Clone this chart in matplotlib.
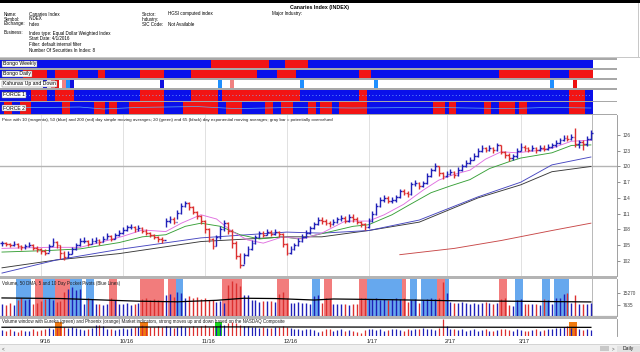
import matplotlib
matplotlib.use('Agg')
import matplotlib.pyplot as plt
from matplotlib.collections import LineCollection
from matplotlib.patches import Rectangle
import numpy as np
import pandas as pd

FONT = ['Liberation Sans', 'DejaVu Sans']
plt.rcParams['font.family'] = FONT

# ---------------- data ----------------
holidays = ['2016-09-05', '2016-11-24', '2016-12-26', '2017-01-02',
            '2017-01-16', '2017-02-20']
dates = pd.bdate_range('2016-08-18', '2017-03-27', freq='C', holidays=holidays)

close = [105.4,105.2,105.0,105.3,104.9,104.6,104.8,105.1,104.5,104.2,
         103.9,103.6,104.8,105.7,105.0,103.5,102.8,103.4,104.2,105.0,
         105.8,105.9,105.3,105.8,106.0,105.6,106.2,106.7,106.2,106.9,
         107.3,107.9,108.4,108.5,108.0,108.3,107.8,107.4,107.0,106.6,
         106.2,106.0,109.6,110.0,109.5,111.2,112.5,113.0,112.3,111.4,
         110.5,109.6,108.0,106.2,104.8,106.5,108.0,109.2,107.8,105.5,
         103.0,101.3,103.2,104.3,105.5,106.5,107.3,107.0,107.6,107.2,
         107.5,107.1,105.2,103.6,104.3,105.0,105.8,106.6,107.4,108.2,
         109.0,109.8,109.6,109.3,109.0,109.4,109.9,110.2,109.7,110.4,
         110.0,109.5,109.0,108.4,109.6,111.0,112.5,113.6,113.9,113.5,
         113.6,114.1,115.3,115.0,114.7,116.6,116.9,116.2,116.8,118.2,
         119.3,120.0,118.7,118.1,118.6,119.0,118.3,119.4,120.0,120.7,
         121.3,122.0,123.0,123.5,123.2,123.6,123.1,124.0,122.8,122.2,
         121.6,121.9,123.0,123.8,123.5,123.2,123.5,123.1,123.6,123.4,
         123.8,124.0,124.5,125.0,125.5,125.3,125.7,124.2,124.6,124.3,
         125.3,126.4]
high = [105.9,105.7,105.5,105.8,105.4,105.1,105.3,105.6,105.2,104.8,
        104.5,104.2,105.2,106.3,105.8,105.0,103.9,103.9,104.6,105.5,
        106.3,106.5,106.0,106.3,106.6,106.2,106.8,107.3,106.9,107.4,
        107.9,108.4,108.9,109.0,108.7,108.8,108.5,108.0,107.6,107.2,
        106.8,106.6,110.1,110.6,110.3,111.7,113.1,113.5,113.2,112.5,
        111.6,110.7,109.8,108.3,106.4,107.0,108.6,109.8,109.4,108.0,
        105.8,103.5,103.6,104.8,106.0,107.0,107.8,107.7,108.1,107.9,
        108.0,107.8,107.3,105.5,104.8,105.5,106.3,107.1,107.9,108.7,
        109.5,110.4,110.3,110.0,109.6,109.9,110.4,110.7,110.5,110.9,
        110.9,110.3,109.7,109.2,110.1,111.5,113.0,114.1,114.5,114.3,
        114.1,114.6,115.8,115.7,115.3,117.1,117.5,117.0,117.3,118.7,
        119.8,120.6,120.1,119.0,119.1,119.5,119.2,119.9,120.5,121.2,
        121.8,122.5,123.5,124.0,123.8,124.1,123.8,124.5,124.1,123.0,
        122.5,122.4,123.5,124.4,124.1,123.8,124.0,123.7,124.1,124.0,
        124.3,124.5,125.0,125.5,126.0,125.9,126.2,127.3,125.1,125.0,
        125.8,126.9]
low = [104.9,104.8,104.6,104.8,104.5,104.1,104.3,104.6,104.1,103.7,
       103.4,103.1,103.8,104.9,104.5,102.4,102.2,102.6,103.3,104.1,
       104.9,105.4,104.9,105.2,105.5,105.1,105.6,106.1,105.8,106.2,
       106.8,107.2,107.8,108.0,107.5,107.8,107.3,106.9,106.5,106.1,
       105.7,105.5,108.4,109.3,109.0,109.9,111.0,112.2,111.8,110.9,
       110.0,109.1,107.4,105.6,104.3,104.9,106.2,107.8,107.2,104.5,
       102.4,100.6,101.5,103.0,104.0,105.3,106.4,106.5,106.9,106.7,
       106.9,106.6,104.7,103.1,103.3,104.0,104.8,105.6,106.4,107.2,
       108.0,108.8,109.1,108.8,108.5,108.8,109.2,109.6,109.2,109.5,
       109.5,109.0,108.5,107.9,108.3,109.4,110.8,112.3,113.2,113.0,
       113.0,113.3,114.0,114.5,114.2,114.6,116.3,115.7,116.0,116.7,
       118.0,119.2,118.1,117.6,117.9,118.3,117.8,118.2,119.2,119.9,
       120.5,121.2,121.8,122.8,122.7,123.0,122.6,123.0,122.3,121.6,
       121.0,121.2,121.7,122.9,123.0,122.7,122.9,122.6,123.0,122.9,
       123.2,123.5,123.8,124.3,124.8,124.8,125.0,123.8,123.6,123.1,
       123.9,125.1]

# moving averages read at a few bars (bar index, value)
ma10_i = [0, 12, 20, 25, 31, 36, 42, 46, 51, 55, 59, 63, 67, 72, 77, 82, 88, 94, 98,
          103, 108, 112, 116, 120, 124, 128, 132, 137, 141, 146, 151]
ma10_v = [104.4, 104.6, 104.6, 105.5, 106.7, 107.9, 107.6, 109.2, 110.8, 110.0, 107.6,
          106.0, 105.4, 106.6, 106.2, 107.3, 109.6, 109.6, 110.8, 112.8, 115.5, 117.4,
          118.5, 119.3, 121.4, 122.8, 122.6, 123.0, 123.5, 124.8, 125.0]
ema20_i = [0, 12, 20, 30, 36, 42, 47, 51, 56, 61, 66, 72, 76, 82, 90, 94, 100, 104,
           110, 115, 120, 125, 130, 133, 141, 146, 151]
ema20_v = [103.7, 104.0, 104.3, 105.5, 106.6, 107.0, 108.6, 109.2, 108.6, 107.0, 106.2,
           106.6, 106.2, 107.2, 108.6, 108.9, 110.8, 112.5, 115.0, 116.3, 117.5, 119.6,
           120.9, 121.6, 122.6, 124.0, 124.1]
sma50_i = [0, 14, 30, 51, 73, 82, 94, 107, 122, 133, 141, 151]
sma50_v = [99.7, 102.2, 104.2, 106.4, 107.5, 107.3, 107.8, 109.8, 114.2, 117.0, 120.3, 121.8]
ema65_i = [0, 14, 30, 51, 73, 82, 94, 107, 122, 133, 141, 151]
ema65_v = [100.7, 102.2, 103.4, 105.7, 106.6, 106.6, 107.8, 109.4, 114.0, 116.5, 119.0, 120.0]
sma200_i = [102, 116, 128, 141, 151]
sma200_v = [103.2, 104.4, 105.9, 107.8, 109.2]

volume = [8200, 7600, 8800, 7400, 11000, 12000, 10500, 11500, 8000, 8600,
          9800, 11800, 12400, 11000, 9500, 10200, 16000, 18500, 19500, 17500,
          18000, 8200, 12000, 11500, 7800, 8400, 7600, 8200, 12500, 11000,
          7800, 8000, 8800, 7600, 8200, 9000, 11500, 12000, 10800, 11200,
          10500, 9800, 14500, 15000, 13000, 16000, 15500, 12500, 13500, 12000,
          13000, 11500, 12000, 10500, 11000, 9500, 10000, 9000, 21000, 23500,
          22000, 20500, 14000, 14500, 11000, 10500, 9500, 10000, 9800, 10200,
          9600, 15000, 16500, 12000, 9000, 8600, 9200, 8800, 9000, 8400,
          13500, 14000, 9000, 12000, 11500, 8200, 7800, 8400, 8000, 7600,
          8200, 8000, 12000, 12500, 11800, 11500, 12000, 11000, 11800, 10800,
          11500, 12000, 11200, 12500, 9500, 11000, 11500, 9000, 11000, 11500,
          12000, 11800, 12500, 23000, 15500, 9500, 8800, 8500, 9200, 8800,
          8400, 9000, 8200, 8800, 9400, 8600, 8000, 8800, 11500, 12000,
          7400, 7000, 11000, 11500, 8200, 7800, 8400, 8000, 7600, 11200,
          11000, 8200, 12000, 12500, 15000, 15500, 9000, 14000, 8400, 8000,
          7800, 8600]
vol50_i = [0, 15, 35, 45, 55, 62, 70, 80, 85, 100, 118, 135, 151]
vol50_v = [12200, 11800, 10000, 9600, 10600, 12000, 11800, 10800, 11500, 11000,
           10200, 9900, 9500]
pivot_blue = [(4, 7), (11, 13), (17, 20), (22, 23), (44, 46), (80, 81), (93, 94),
              (95, 98), (99, 102), (105, 106), (108, 111), (113, 114), (132, 133),
              (139, 140), (142, 143), (144, 145)]
pivot_red = [(9, 10), (14, 15), (16, 17), (28, 29), (36, 37), (38, 41), (43, 44),
             (57, 61), (71, 73), (83, 84), (92, 93), (103, 103), (112, 113), (128, 129)]

nasdaq_vol = [1.55,1.45,1.60,1.50,1.40,1.55,1.50,1.45,1.60,1.50,
              1.55,1.65,1.70,1.60,1.75,1.90,1.80,1.70,1.85,1.75,
              1.60,1.55,1.65,1.70,2.00,2.05,1.95,1.60,1.65,1.55,
              1.60,1.70,1.65,1.75,1.80,1.85,2.00,1.90,1.85,1.80,
              1.95,1.85,1.90,1.80,1.75,1.85,1.95,1.80,1.85,1.90,
              1.80,1.95,2.00,1.85,1.90,1.95,2.10,2.05,2.15,2.30,
              2.20,2.00,1.95,1.90,1.85,1.80,1.75,1.80,1.70,1.75,
              1.80,1.85,1.90,1.85,1.70,1.65,1.60,1.55,1.60,1.65,
              1.55,1.40,1.45,1.60,1.65,1.50,1.55,1.60,1.50,1.55,
              1.45,1.35,1.30,1.55,1.60,1.65,1.55,1.60,1.50,1.55,
              1.60,1.65,1.55,1.50,1.60,1.55,1.65,1.60,1.70,1.65,
              1.60,1.55,1.75,2.60,1.95,1.65,1.60,1.55,1.60,1.50,
              1.55,1.60,1.50,1.55,1.60,1.50,1.45,1.55,1.60,1.65,
              1.55,1.50,1.60,1.55,1.50,1.45,1.55,1.60,1.50,1.55,
              1.65,1.60,1.70,1.75,1.80,1.95,1.70,1.75,1.60,1.55,
              1.60,1.55]
nasdaq_avg_i = [0, 60, 151]
nasdaq_avg_v = [1.80, 1.83, 1.79]
eureka = [(55, 56)]
phoenix = [(14, 15), (36, 37), (146, 147)]

bongo_weekly_red = [(54, 68), (73, 78)]
bongo_daily_red = [(6, 11), (14, 19), (25, 26), (36, 41), (49, 65), (71, 75),
                   (92, 94), (128, 140), (146, 151)]
kahunas = [(11, '#1010e0'), (13, '#f08080'), (14, '#ee1010'), (16, '#f08080'),
           (17, '#1e8fff'), (18, '#1010e0'), (41, '#1010e0'), (56, '#1e8fff'),
           (59, '#f08080'), (77, '#1e8fff'), (96, '#1e8fff'), (141, '#1e8fff'),
           (147, '#ee1010')]
force1_red = [(8, 11), (14, 18), (36, 41), (49, 55), (57, 76), (92, 93), (146, 149)]
force2_red = [(1, 2), (5, 7), (16, 17), (24, 26), (28, 29), (33, 35), (36, 41),
              (47, 55), (58, 61), (68, 69), (72, 74), (79, 80), (82, 84), (87, 89),
              (90, 93), (111, 113), (115, 116), (124, 125), (128, 131), (133, 134),
              (146, 149)]
force2_i = [0, 20, 26, 35, 50, 60, 75, 90, 110, 130, 140, 151]
force2_v = [0.50, 0.58, 0.42, 0.55, 0.62, 0.45, 0.55, 0.50, 0.55, 0.45, 0.55, 0.50]

# ---------------- layout helpers ----------------
W, H = 640, 352
fig = plt.figure(figsize=(6.4, 3.52), dpi=100)
fig.patch.set_facecolor('white')
renderer = fig.canvas.get_renderer()
N = len(close)
idx = np.arange(N)
XL = (-2 / 3.9, (617 - 2) / 3.9)
BLUE, RED = '#0a10ea', '#f21414'
BAR_BLUE, BAR_RED = '#2020b8', '#dc3030'


def ax_px(x0, y0, x1, y1):
    return fig.add_axes([x0 / W, 1 - y1 / H, (x1 - x0) / W, (y1 - y0) / H])


def ftext(x, y, s, size=3.4, width=None, **kw):
    kw.setdefault('va', 'center')
    t = fig.text(x / W, 1 - y / H, s, fontsize=size, **kw)
    if width:
        bb = t.get_window_extent(renderer)
        t.set_fontsize(size * width / bb.width)
    return t


def frect(x0, y0, x1, y1, color, z=-5):
    fig.patches.append(Rectangle((x0 / W, 1 - y1 / H), (x1 - x0) / W, (y1 - y0) / H,
                                 transform=fig.transFigure, fc=color, ec='none',
                                 zorder=z))


month_start = [i for i in range(1, N) if dates[i].month != dates[i - 1].month]

# ---------------- header ----------------
frect(0, 0, 640, 3, 'black', z=5)
frect(0, 56.5, 640, 57.5, '#c8c8c8')
frect(637.5, 3, 638.5, 57, '#c8c8c8')
base = ftext(29, 33, 'Index type: Equal Dollar Weighted Index', width=83).get_fontsize()
ftext(290, 7, 'Canaries Index (INDEX)', size=base * 1.15, weight='bold')
for y, lab, val in [(14, 'Name:', 'Canaries Index'), (19, 'Symbol:', 'INDEX'),
                    (24, 'Exchange:', 'Index'), (33, 'Business:', None)]:
    ftext(4, y, lab, size=base)
    if val:
        ftext(29, y, val, size=base)
ftext(29, 38.5, 'Start Date: 4/1/2016', size=base)
ftext(29, 44, 'Filter: default internal filter', size=base)
ftext(29, 50, 'Number Of Securities In Index: 8', size=base)
ftext(142, 14, 'Sector:', size=base)
ftext(168, 14, 'HGSI computed index', size=base)
ftext(142, 19, 'Industry:', size=base)
ftext(142, 24, 'SIC Code:', size=base)
ftext(168, 24, 'Not Available', size=base)
ftext(272, 14, 'Major Industry:', size=base)

# ---------------- indicator strips ----------------
frect(0, 58, 617, 115, '#a8a8a8')


def strip(y0, y1, red_runs, label, bg=BLUE):
    ax = ax_px(0, y0, 617, y1)
    ax.set_xlim(XL)
    ax.set_ylim(0, 1)
    ax.axis('off')
    ax.axvspan(XL[0], XL[1], color='white', lw=0)
    ax.axvspan(XL[0], N - 0.5, color=bg, lw=0)
    for a, b in red_runs:
        ax.axvspan(a - 0.5, b + 0.5, color=RED, lw=0)
    for m in month_start:
        ax.axvline(m, color='#d0d0d0', lw=0.5, zorder=0)
    ax.axvline(XL[1] - 0.05, color='#909090', lw=0.6)
    ax.text(0.3, 0.5, label, fontsize=base * 1.12, va='center', ha='left',
            bbox=dict(fc='white', ec='#707070', lw=0.3, pad=0.5))
    return ax


strip(59.5, 68, bongo_weekly_red, 'Bongo Weekly')
strip(70, 77.5, bongo_daily_red, 'Bongo Daily')
ak = strip(79.5, 88, [], 'Kahunas Up and Down', bg='white')
for i, c in kahunas:
    ak.axvspan(i - 0.5, i + 0.5, color=c, lw=0)
af1 = strip(89.5, 100.5, force1_red, 'FORCE 1')
af1.plot(idx, np.full(N, 0.5), ls=(0, (1, 3)), color='#7fb8ff', lw=0.6)
af2 = strip(102, 114, force2_red, 'FORCE 2')
af2.plot(force2_i, force2_v, color='#5fb0f0', lw=0.5)

# ---------------- price panel ----------------
ax = ax_px(0, 115, 617, 276)
ax.set_xlim(XL)
ax.set_ylim(99.14, 129.8)
for s in ['top', 'bottom', 'left']:
    ax.spines[s].set_visible(False)
ax.spines['right'].set_color('#909090')
ax.spines['right'].set_linewidth(0.6)
ax.set_xticks([])
ax.yaxis.tick_right()
ax.set_yticks(range(102, 127, 3))
ax.tick_params(axis='y', length=2, width=0.4, pad=2, labelsize=base * 1.05,
               colors='#404040')
for m in month_start:
    ax.axvline(m, color='#dcdcdc', lw=0.6, zorder=0)
ax.axvline(N - 0.7, color='#b8b8b8', lw=0.7, zorder=0)
ax.axhline(120, color='#b4b4b4', lw=1.0, zorder=0)

ax.plot(sma200_i, sma200_v, color='#c84848', lw=0.65)
ax.plot(ema65_i, ema65_v, color='#383838', lw=0.65)
ax.plot(sma50_i, sma50_v, color='#4646c0', lw=0.65)
ax.plot(ema20_i, ema20_v, color='#38a038', lw=0.65)
ax.plot(ma10_i, ma10_v, color='#e070e0', lw=0.65)

cl = np.array(close)
op = np.r_[cl[0], cl[:-1]]
up = cl >= op
tk = 0.45
segs, cols = [], []
for i in range(N):
    c = BAR_BLUE if up[i] else BAR_RED
    segs += [[(i, low[i]), (i, high[i])], [(i - tk, op[i]), (i, op[i])],
             [(i, cl[i]), (i + tk, cl[i])]]
    cols += [c, c, c]
ax.add_collection(LineCollection(segs, colors=cols, lw=1.0))
ftext(2, 119.5, 'Price with 10 (magenta), 50 (blue) and 200 (red) day simple moving '
      'averages; 20 (green) and 65 (black) day exponential moving averages; gray bar = '
      'potentially overvalued', width=343, color='#202020')

# ---------------- volume panel ----------------
frect(0, 276, 617, 279, '#b4b4b4', z=5)
av = ax_px(0, 279, 617, 316)
av.set_xlim(XL)
av.set_ylim(0, 25000)
for s in ['top', 'bottom', 'left']:
    av.spines[s].set_visible(False)
av.spines['right'].set_color('#909090')
av.spines['right'].set_linewidth(0.6)
av.set_xticks([])
av.yaxis.tick_right()
av.set_yticks([7635, 15270])
av.tick_params(axis='y', length=2, width=0.4, pad=2, labelsize=base * 1.05,
               colors='#404040')
for a, b in pivot_blue:
    av.axvspan(a - 0.5, b + 0.5, color='#66a8ee', lw=0)
for a, b in pivot_red:
    av.axvspan(a - 0.5, b + 0.5, color='#f27c7c', lw=0)
av.vlines(idx, 0, volume, colors=[BAR_BLUE if u else BAR_RED for u in up], lw=1.0)
av.plot(vol50_i, vol50_v, color='black', lw=0.9)
av.axvline(N - 0.7, color='#b8b8b8', lw=0.7, zorder=0)
av.axhline(0, color='#606060', lw=0.8)
ftext(2, 283, 'Volume, 50 DMA, 5 and 10 Day Pocket Pivots (Blue Lines)',
      width=121, color='#202020')

# ---------------- NASDAQ volume window ----------------
frect(0, 316, 617, 318.5, '#b4b4b4', z=5)
an = ax_px(0, 318.5, 617, 336)
an.set_xlim(XL)
an.set_ylim(1.0, 2.6)
for s in ['top', 'bottom', 'left']:
    an.spines[s].set_visible(False)
an.spines['right'].set_color('#909090')
an.spines['right'].set_linewidth(0.6)
an.set_xticks([])
an.set_yticks([])
for a, b in phoenix:
    an.add_patch(Rectangle((a - 0.5, 1.0), b - a + 1, 1.25, fc='#f07a10', ec='none'))
for a, b in eureka:
    an.add_patch(Rectangle((a - 0.5, 1.0), b - a + 1, 1.25, fc='#18d818', ec='none'))
an.vlines(idx, 1.0, nasdaq_vol, colors=[BAR_BLUE if u else BAR_RED for u in up], lw=0.9)
an.plot(nasdaq_avg_i, nasdaq_avg_v, color='black', lw=0.9)
ftext(2, 321, 'Volume window with Eureka (green) and Phoenix (orange) Market indicators, '
      'strong moves up and down based on the NASDAQ Composite', width=285, color='#202020')

# month labels
for m in month_start:
    d = dates[m]
    xp = 2 + 3.9 * (m + 1)
    ftext(xp, 341.5, f'{d.month}/{d.strftime("%y")}', size=base * 1.25, ha='center',
          color='#202020')

# ---------------- bottom bar ----------------
frect(0, 344.5, 640, 352, '#efefef')
frect(0, 344, 640, 344.6, '#d4d4d4')
frect(600, 346, 609, 351, '#c8c8c8')
ftext(612, 348.5, '>', size=base, color='#505050')
frect(617, 345.5, 640, 352, '#e2e2e2')
ftext(628.5, 348.5, 'Daily', size=base * 1.1, ha='center', color='#202020')
ftext(2, 348.5, '<', size=base, color='#505050')

fig.savefig('out.png', dpi=100)
